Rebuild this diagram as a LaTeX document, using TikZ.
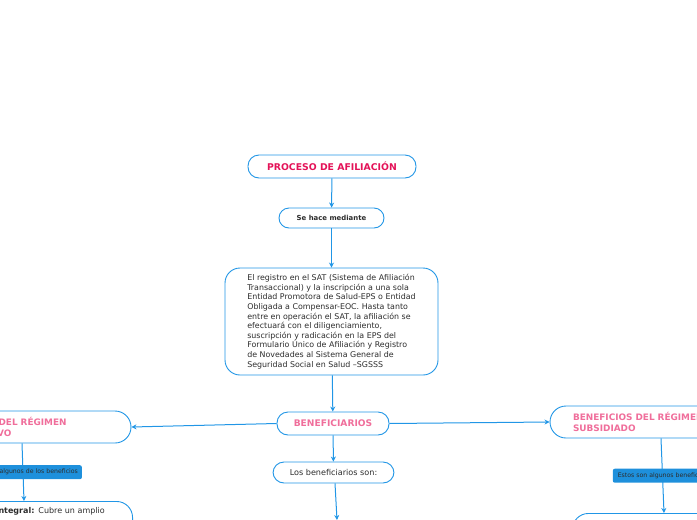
\documentclass[tikz,border=0pt]{standalone}
\usepackage{fontspec}
\setmainfont{DejaVu Sans}
\usetikzlibrary{arrows.meta, positioning}
\definecolor{mapblue}{RGB}{33, 150, 230}
\definecolor{tagblue}{RGB}{30, 144, 220}
\definecolor{titlered}{RGB}{228, 18, 88}
\definecolor{pinktext}{RGB}{240, 110, 155}
\definecolor{darktext}{RGB}{45, 45, 45}
\tikzset{
    topic/.style={rectangle, rounded corners=11pt, draw=mapblue, line width=0.9pt, fill=white, align=center, inner sep=2pt},
    mainbox/.style={topic, rounded corners=15pt, align=left, text=darktext, font=\fontsize{7.9}{9.6}\selectfont, inner xsep=0pt},
    subbox/.style={topic, rounded corners=16pt, align=left, text=pinktext, font=\fontsize{8.9}{11.5}\selectfont\bfseries, inner xsep=0pt},
    tag/.style={rectangle, rounded corners=2pt, fill=tagblue, text=darktext, font=\fontsize{6.2}{7}\selectfont, inner xsep=4pt, minimum height=14pt},
    arr/.style={-{Stealth[length=5pt, width=5pt]}, line width=1pt, mapblue}
}

\begin{document}
\begin{tikzpicture}[x=1pt, y=-1pt]
        \useasboundingbox (0,0) rectangle (697,520);
        \clip (0,0) rectangle (697,520);

        \node[topic, minimum width=168pt, minimum height=23pt, text=titlered, font=\fontsize{9.3}{10}\selectfont\bfseries] (proceso) at (332,166.5) {PROCESO DE AFILIACIÓN};
        \node[topic, rounded corners=10pt, minimum width=105pt, minimum height=20pt, text=darktext, font=\fontsize{6.9}{8}\selectfont\bfseries] (mediante) at (331.5,218) {Se hace mediante};
        \node[mainbox, minimum width=213pt, minimum height=107pt] (registro) at (331.5,321.5) {El registro en el SAT (Sistema de Afiliación\\Transaccional) y la inscripción a una sola\\Entidad Promotora de Salud-EPS o Entidad\\Obligada a Compensar-EOC. Hasta tanto\\entre en operación el SAT, la afiliación se\\efectuará con el diligenciamiento,\\suscripción y radicación en la EPS del\\Formulario Único de Afiliación y Registro\\de Novedades al Sistema General de\\Seguridad Social en Salud –SGSSS};
        \node[topic, minimum width=112pt, minimum height=23pt, text=pinktext, font=\fontsize{9.1}{10}\selectfont\bfseries] (benef) at (333,423.5) {BENEFICIARIOS};
        \node[topic, minimum width=121pt, minimum height=21pt, text=darktext, font=\fontsize{8.1}{9}\selectfont] (son) at (333.5,472.5) {Los beneficiarios son:};
        \coordinate (abajo) at (337,520);

        \node[subbox, minimum width=218pt, minimum height=32pt, text width=172pt] (contrib) at (22,427) {BENEFICIOS DEL RÉGIMEN\\CONTRIBUTIVO};
        \node[subbox, minimum width=218pt, minimum height=32pt, text width=172pt] (subsid) at (659,422) {BENEFICIOS DEL RÉGIMEN\\SUBSIDIADO};

        \node[topic, rounded corners=16pt, anchor=north east, minimum width=160pt, text width=114pt, text height=7pt, text depth=30pt, align=left, inner xsep=23pt, inner ysep=5pt, text=darktext, font=\fontsize{8}{9.5}\selectfont] (integral) at (133,501) {\textbf{Integral:} Cubre un amplio};
        \node[topic, rounded corners=16pt, anchor=north west, minimum width=218pt, minimum height=40pt] (subben) at (572,513) {};

        \draw[arr] (proceso) -- (mediante);
        \draw[arr] (mediante) -- (registro);
        \draw[arr] (registro) -- (benef);
        \draw[arr] (benef) -- (son);
        \draw[arr] ([xshift=1.5pt]son.south) -- (abajo);
        \draw[arr] (benef.west) -- (contrib.east);
        \draw[arr] (benef.east) -- (subsid.west);
        \draw[arr] (contrib.south) -- node[tag] {Estos son algunos de los beneficios} ([xshift=2pt]contrib.south |- integral.north);
        \draw[arr] ([xshift=2pt]subsid.south) -- node[tag, inner xsep=5pt] {Estos son algunos beneficios} ([xshift=5pt]subsid.south |- subben.north);
    \end{tikzpicture}
\end{document}
